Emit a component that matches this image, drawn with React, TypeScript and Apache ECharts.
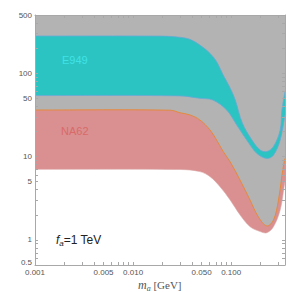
import React, { useEffect, useRef } from 'react';
import * as echarts from 'echarts';

// E949 band (upper and lower boundary), [m_a GeV, value]
const e949Upper: [number, number][] = [
  [0.001, 280], [0.02, 279], [0.03, 270], [0.038, 255], [0.048, 218], [0.061, 173],
  [0.071, 138], [0.083, 95], [0.098, 66], [0.11, 48], [0.13, 25.3], [0.163, 15.8],
  [0.198, 12.0], [0.231, 11.5], [0.27, 13.2], [0.316, 20.8], [0.329, 36], [0.354, 60],
];
const e949Lower: [number, number][] = [
  [0.001, 54], [0.03, 53.5], [0.048, 50], [0.065, 47.7], [0.09, 36.2], [0.114, 23.9],
  [0.144, 15.8], [0.183, 10.9], [0.231, 9.5], [0.27, 10.4], [0.316, 15.8], [0.354, 31.6],
];
// NA62 band
const na62Upper: [number, number][] = [
  [0.001, 36.2], [0.024, 36], [0.03, 33.6], [0.038, 31.6], [0.048, 27.5], [0.061, 20.8],
  [0.071, 15.8], [0.083, 11.5], [0.098, 8.6], [0.123, 5.24], [0.156, 3.0], [0.189, 1.9],
  [0.231, 1.47], [0.27, 1.73], [0.304, 3.0], [0.328, 5.7], [0.343, 8], [0.354, 9.5],
];
const na62Lower: [number, number][] = [
  [0.001, 7.03], [0.03, 7.0], [0.048, 6.6], [0.061, 5.74], [0.077, 4.35], [0.098, 3.0],
  [0.123, 2.0], [0.156, 1.44], [0.198, 1.26], [0.231, 1.22], [0.27, 1.44], [0.316, 2.29],
  [0.347, 4.35], [0.354, 5.0],
];

const xMin = 0.001;
const xMax = 0.354;
const yMin = 0.5;
const yMax = 500;
const xLabelValues = [0.001, 0.005, 0.01, 0.05, 0.1];
const xTickValues = [
  0.001, 0.002, 0.003, 0.004, 0.005, 0.006, 0.007, 0.008, 0.009,
  0.01, 0.02, 0.03, 0.04, 0.05, 0.06, 0.07, 0.08, 0.09, 0.1, 0.2, 0.3,
];
const yLabelValues = [0.5, 1, 5, 10, 50, 100, 500];
const yTickValues = [
  0.5, 0.6, 0.7, 0.8, 0.9, 1, 2, 3, 4, 5, 6, 7, 8, 9, 10, 20, 30, 40, 50, 60, 70, 80, 90,
  100, 200, 300, 400, 500,
];

const GRAY = '#b3b3b3';
const CYAN = '#2cc3c3';
const RED = '#da9090';
const ORANGE = '#e58a3c';
const EDGE = '#6aa9d6';
const FRAME = '#a8a8a8';
const LABEL = '#555555';
const SMOOTH = 0.35;

function axisCommon(position: string, showLabels: boolean, isX: boolean) {
  return {
    type: 'log',
    position,
    min: isX ? xMin : yMin,
    max: isX ? xMax : yMax,
    z: 10,
    axisLine: { show: true, lineStyle: { color: FRAME, width: 1 } },
    axisTick: {
      show: true,
      inside: true,
      length: 3,
      customValues: isX ? xTickValues : yTickValues,
      lineStyle: { color: FRAME, width: 1 },
    },
    axisLabel: showLabels
      ? {
          show: true,
          customValues: isX ? xLabelValues : yLabelValues,
          fontSize: 8,
          color: LABEL,
          fontFamily: 'Liberation Sans',
          margin: 3,
          formatter: isX
            ? (v: number) => v.toFixed(3)
            : (v: number) => (v === yMin ? '{lift|' + v + '}' : String(v)),
          rich: {
            lift: { fontSize: 8, color: LABEL, fontFamily: 'Liberation Sans', padding: [0, 0, 5, 0] },
          },
        }
      : { show: false },
    splitLine: { show: false },
    minorTick: { show: false },
  };
}

function renderBands(_params: any, api: any) {
  const px = (arr: [number, number][]) => arr.map((p) => api.coord(p));
  const dupEnds = (pts: number[][]) => [pts[0], ...pts, pts[pts.length - 1]];
  const band = (upper: [number, number][], lower: [number, number][]) => [
    ...dupEnds(px(upper)),
    ...dupEnds(px(lower).reverse()),
  ];
  const below = (curve: [number, number][]) => [
    ...dupEnds(px(curve)),
    ...dupEnds(px([[xMax, yMin], [xMin, yMin]])),
  ];
  const line = (curve: [number, number][], stroke: string, lineWidth: number) => ({
    type: 'polyline',
    shape: { points: dupEnds(px(curve)), smooth: SMOOTH },
    style: { stroke, lineWidth, fill: null },
  });
  return {
    type: 'group',
    children: [
      { type: 'polygon', shape: { points: band(e949Upper, e949Lower), smooth: SMOOTH }, style: { fill: CYAN } },
      { type: 'polygon', shape: { points: band(na62Upper, na62Lower), smooth: SMOOTH }, style: { fill: RED } },
      { type: 'polygon', shape: { points: below(na62Lower), smooth: SMOOTH }, style: { fill: '#ffffff' } },
      line(e949Upper, EDGE, 0.8),
      line(e949Lower, EDGE, 0.8),
      line(na62Lower, '#e3a0a0', 0.6),
      line(na62Upper, ORANGE, 1),
    ],
  };
}

export default function App() {
  const ref = useRef<HTMLDivElement>(null);
  useEffect(() => {
    if (!ref.current) return;
    const chart = echarts.init(ref.current, undefined, { renderer: 'svg' });
    chart.setOption({
      animation: false,
      backgroundColor: '#ffffff',
      grid: {
        left: 35,
        right: 7,
        top: 15,
        bottom: 27,
        show: true,
        backgroundColor: GRAY,
        borderWidth: 0,
      },
      xAxis: [axisCommon('bottom', true, true), axisCommon('top', false, true)],
      yAxis: [axisCommon('left', true, false), axisCommon('right', false, false)],
      series: [
        {
          type: 'custom',
          xAxisIndex: 0,
          yAxisIndex: 0,
          clip: true,
          silent: true,
          data: [[xMin, yMin]],
          renderItem: renderBands,
        },
      ],
      graphic: [
        {
          type: 'text',
          x: 62,
          y: 54,
          z: 20,
          style: { text: 'E949', fill: '#3fe3e6', font: '11px "Liberation Sans"' },
        },
        {
          type: 'text',
          x: 61,
          y: 125,
          z: 20,
          style: { text: 'NA62', fill: '#d96a6a', font: '11px "Liberation Sans"' },
        },
        {
          type: 'text',
          x: 56,
          y: 233,
          z: 20,
          style: {
            text: '{f|f}{s|a}{n|=1 TeV}',
            fill: '#222222',
            font: '12px "Liberation Sans"',
            rich: {
              f: { fontStyle: 'italic', fontSize: 12, fontFamily: 'Liberation Sans', fill: '#222222' },
              s: { fontStyle: 'italic', fontSize: 8, fontFamily: 'Liberation Sans', padding: [6, 0, 0, 0], fill: '#222222' },
              n: { fontSize: 12, fontFamily: 'Liberation Sans', fill: '#222222' },
            },
          },
        },
        {
          type: 'text',
          x: 138,
          y: 278,
          z: 20,
          style: {
            text: '{m|m}{s|a}{n| [GeV]}',
            fill: '#555555',
            font: '11px "Liberation Serif"',
            rich: {
              m: { fontStyle: 'italic', fontSize: 12, fontFamily: 'Liberation Serif', fill: '#555555' },
              s: { fontStyle: 'italic', fontSize: 8, fontFamily: 'Liberation Serif', padding: [6, 0, 0, 0], fill: '#555555' },
              n: { fontSize: 11, fontFamily: 'Liberation Serif', fill: '#555555' },
            },
          },
        },
      ],
    });
    return () => chart.dispose();
  }, []);
  return (
    <div
      ref={ref}
      style={{ position: 'fixed', left: 0, top: 0, width: 292, height: 292 }}
    />
  );
}
